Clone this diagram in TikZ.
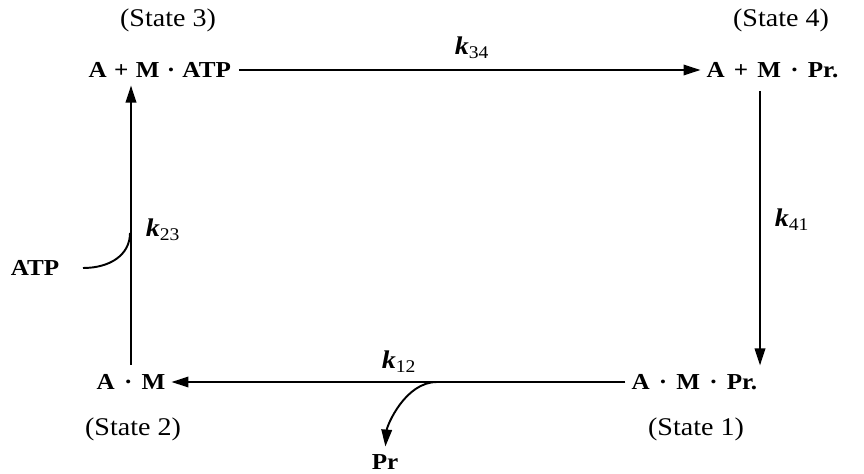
\documentclass[tikz,border=0pt]{standalone}
\usepackage{fontspec}
\setmainfont{Liberation Serif}[FakeStretch=1.1]
\usetikzlibrary{arrows.meta}
\newcommand{\sgap}{\hspace{0.4em}}
\newcommand{\tgap}{\hspace{0.32em}}

\begin{document}
\begin{tikzpicture}[x=0.02cm, y=-0.02cm,
  species/.style={font=\fontsize{13}{15}\selectfont\bfseries, inner sep=1pt},
  tag/.style={font=\fontsize{14.5}{16}\selectfont, inner sep=1pt},
  rate/.style={font=\fontsize{14.5}{16}\selectfont\bfseries\itshape, inner sep=1pt},
  >={Triangle[length=3.4mm, width=2.1mm]}, line width=1.1pt]
  \useasboundingbox (0,0) rectangle (864,473);
  % the four states
  \node[species, anchor=west] (s3) at (86,70) {A\tgap+\tgap M\tgap·\tgap ATP};
  \node[species, anchor=west] (s4) at (704,70) {A\sgap+\sgap M\sgap·\sgap Pr.};
  \node[species] (s2) at (131,382) {A\sgap·\sgap M};
  \node[species, anchor=east] (s1) at (760,382) {A\sgap·\sgap M\sgap·\sgap Pr.};
  \node[tag] (t3) at (168,20) {(State 3)};
  \node[tag] (t4) at (781,20) {(State 4)};
  \node[tag] (t2) at (133,429) {(State 2)};
  \node[tag] (t1) at (696,429) {(State 1)};
  % side products
  \node[species] (atp) at (35,268) {ATP};
  \node[species] (pr) at (385,462) {Pr};
  % rate constants
  \node[rate] (k34) at (472,48) {k\textsubscript{\upshape\mdseries 34}};
  \node[rate] (k41) at (792,220) {k\textsubscript{\upshape\mdseries 41}};
  \node[rate] (k23) at (163,230) {k\textsubscript{\upshape\mdseries 23}};
  \node[rate] (k12) at (399,362) {k\textsubscript{\upshape\mdseries 12}};
  \coordinate (j23) at (130,233);
  \coordinate (j12) at (437,382);
  % transitions
  \draw[->, shorten <=3pt, shorten >=2pt] (s3.east) -- (s4.west);
  \draw[->, shorten <=6pt, shorten >=3.5pt] (s4.south -| s1.north east) -- (s1.north east);
  \draw[->, shorten <=2pt, shorten >=2pt] (s1.west) -- (s2.east);
  \draw[->, shorten <=4pt, shorten >=3pt] (s2.north) -- (s2.north |- s3.south);
  \draw[shorten <=12pt] (atp.east) .. controls +(48,0) and +(0,22) .. (j23);
  \draw[->, shorten >=3pt] (j12) .. controls +(-32,0) and +(2,-26) .. (pr.north);
\end{tikzpicture}
\end{document}
